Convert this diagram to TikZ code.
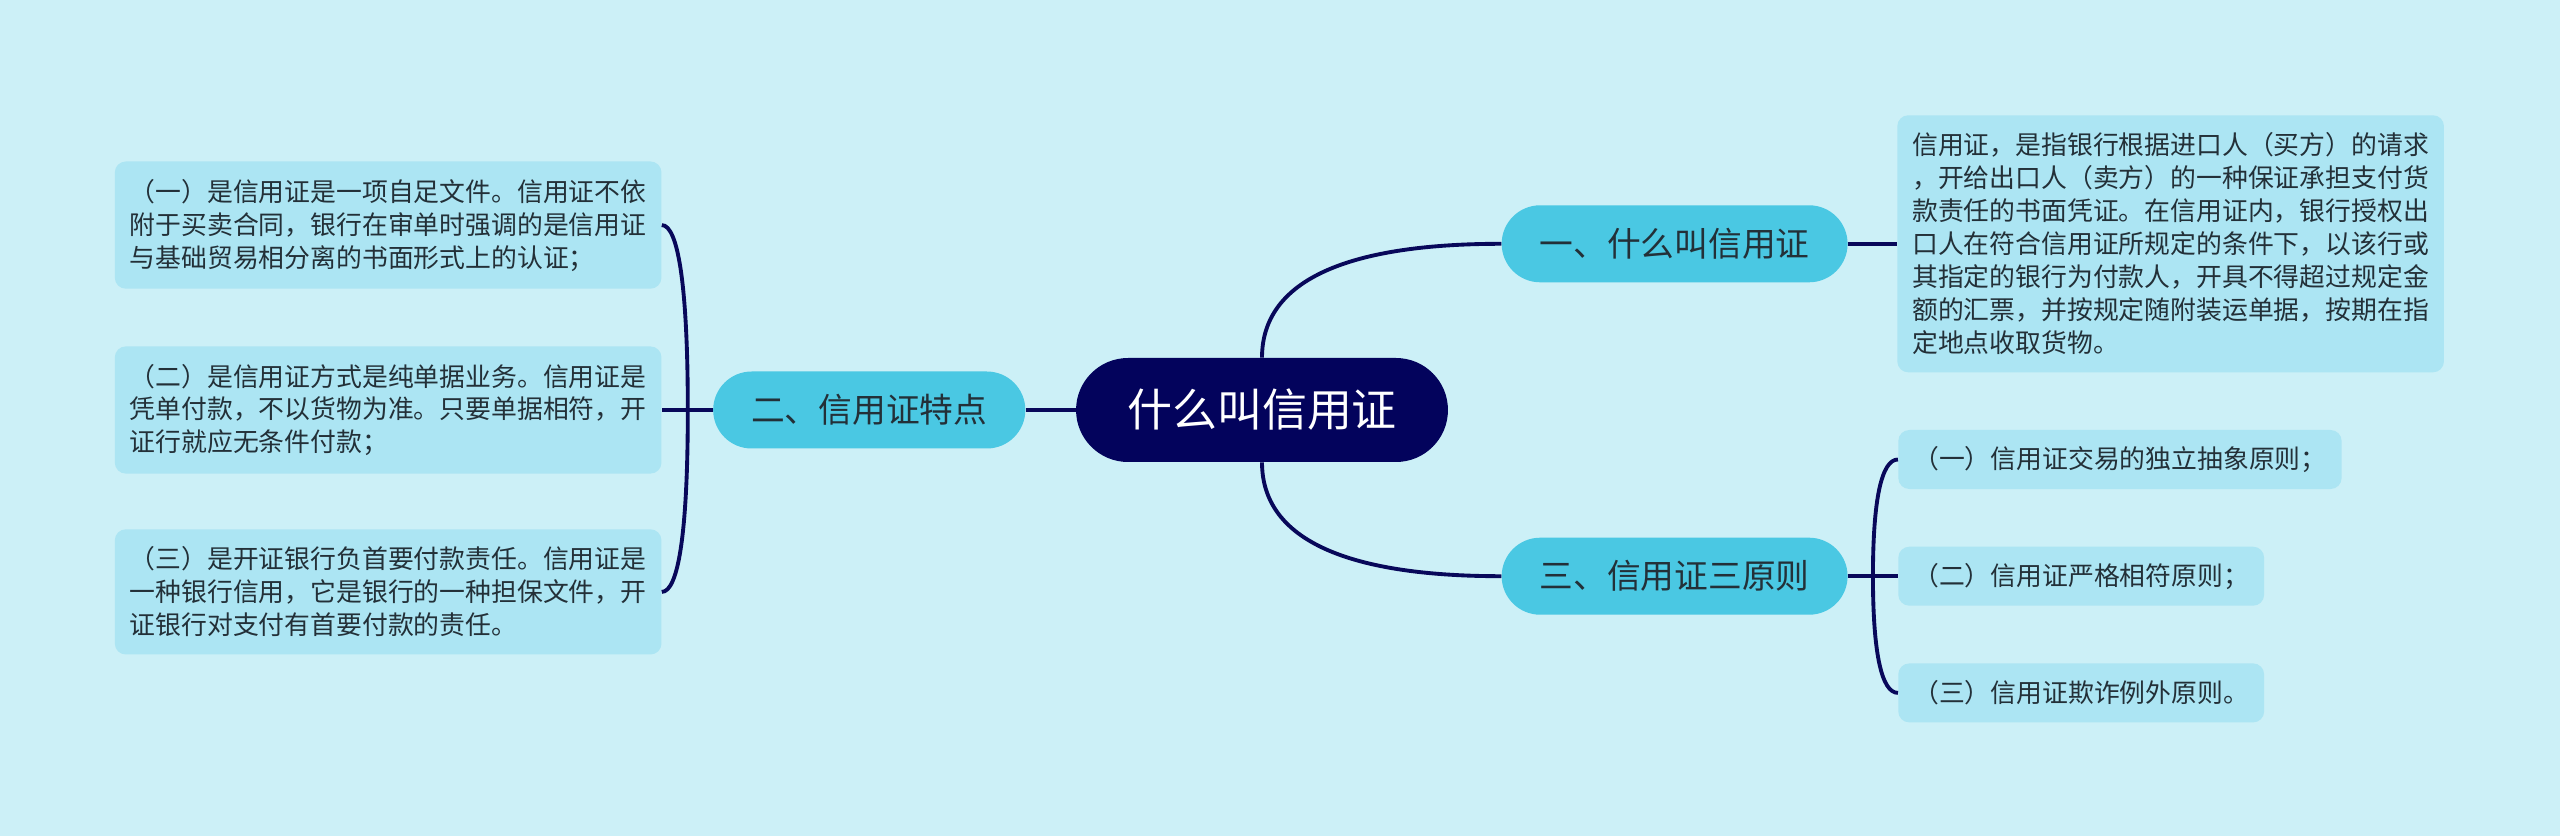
\documentclass[tikz,border=0pt]{standalone}
\usepackage{fontspec}
\setmainfont{Noto Sans CJK SC}
\usepackage{xcolor}
\usetikzlibrary{positioning}

\definecolor{bgcol}{RGB}{204,240,247}
\definecolor{leafcol}{RGB}{172,229,243}
\definecolor{branchcol}{RGB}{74,200,227}
\definecolor{rootcol}{RGB}{3,3,92}
\definecolor{linecol}{RGB}{8,8,90}
\definecolor{textcol}{RGB}{35,48,56}

\begin{document}
\begin{tikzpicture}[
        root/.style={fill=rootcol, text=white, rounded corners=1.04cm, minimum height=2.08cm, inner xsep=1.02cm, font=\fontsize{25.6}{30}\selectfont},
        branch/.style={fill=branchcol, text=textcol, rounded corners=0.77cm, minimum height=1.54cm, inner xsep=0.76cm, font=\fontsize{19.2}{23}\selectfont},
        leaf/.style={fill=leafcol, text=textcol, rounded corners=0.22cm, align=left, inner xsep=0.3cm, inner ysep=0.35cm, font=\fontsize{14.7}{18.76}\selectfont},
        small/.style={leaf, minimum height=1.18cm, inner ysep=0.1cm},
        link/.style={draw=linecol, line width=2.2pt}
    ]
        \fill[bgcol] (0,0) rectangle (51.2,-16.72);
        \useasboundingbox (0,0) rectangle (51.2,-16.72);

        \node[root] (root) at (25.24,-8.2) {什么叫信用证};
        \node[branch, above right=1.5cm and 1.06cm of root] (what) {一、什么叫信用证};
        \node[branch, left=1.0cm of root] (traits) {二、信用证特点};
        \node[branch, below right=1.5cm and 1.06cm of root] (rules) {三、信用证三原则};

        \node[leaf, right=0.98cm of what] (def) {信用证，是指银行根据进口人（买方）的请求\\，开给出口人（卖方）的一种保证承担支付货\\款责任的书面凭证。在信用证内，银行授权出\\口人在符合信用证所规定的条件下，以该行或\\其指定的银行为付款人，开具不得超过规定金\\额的汇票，并按规定随附装运单据，按期在指\\定地点收取货物。};

        \node[leaf, left=1.02cm of traits] (feat2) {（二）是信用证方式是纯单据业务。信用证是\\凭单付款，不以货物为准。只要单据相符，开\\证行就应无条件付款；};
        \node[leaf, above=1.14cm of feat2] (feat1) {（一）是信用证是一项自足文件。信用证不依\\附于买卖合同，银行在审单时强调的是信用证\\与基础贸易相分离的书面形式上的认证；};
        \node[leaf, below=1.1cm of feat2] (feat3) {（三）是开证银行负首要付款责任。信用证是\\一种银行信用，它是银行的一种担保文件，开\\证银行对支付有首要付款的责任。};

        \node[small, right=1.0cm of rules] (rule2) {（二）信用证严格相符原则；};
        \node[small, above=1.14cm of rule2.north west, anchor=south west] (rule1) {（一）信用证交易的独立抽象原则；};
        \node[small, below=1.14cm of rule2.south west, anchor=north west] (rule3) {（三）信用证欺诈例外原则。};

        \coordinate[left=0.5cm of traits.west] (fjoin);
        \coordinate[right=0.5cm of rules.east] (rjoin);

        \draw[link] (root.north) .. controls +(0,1.5) and +(-3.19,0) .. (what.west);
        \draw[link] (root.south) .. controls +(0,-1.5) and +(-3.19,0) .. (rules.west);
        \draw[link] (root.west) -- (traits.east);
        \draw[link] (what.east) -- (def.west);

        \draw[link] (traits.west) -- (feat2.east);
        \draw[link] (fjoin) .. controls +(0,2.45) and +(0.33,0) .. (feat1.east);
        \draw[link] (fjoin) .. controls +(0,-2.45) and +(0.33,0) .. (feat3.east);

        \draw[link] (rules.east) -- (rule2.west);
        \draw[link] (rjoin) .. controls +(0,1.53) and +(-0.33,0) .. (rule1.west);
        \draw[link] (rjoin) .. controls +(0,-1.53) and +(-0.33,0) .. (rule3.west);
    \end{tikzpicture}
\end{document}
